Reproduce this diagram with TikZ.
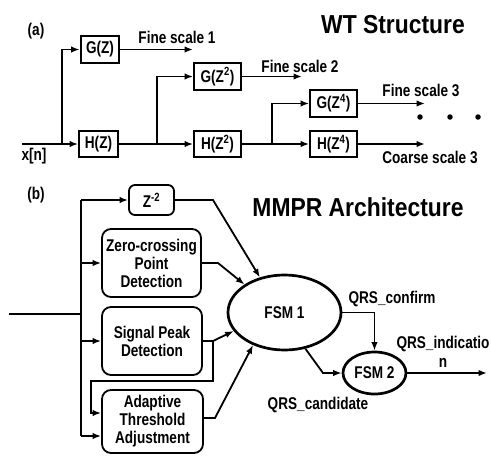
\documentclass[tikz,border=0pt]{standalone}
\usepackage{fontspec}
\setmainfont{Liberation Sans}[FakeStretch=0.88]
\newfontfamily\narrowfont{Liberation Sans}[FakeStretch=0.80]
\usetikzlibrary{arrows.meta,shapes.geometric}
\begin{document}
\begin{tikzpicture}[x=1pt,y=-1pt,
  every node/.style={font=\narrowfont\fontsize{17}{18}\selectfont\bfseries, inner sep=0pt},
  ln/.style={line width=1.8pt},
  arr/.style={ln,-{Latex[length=8.5pt,width=6.5pt]}},
  box/.style={draw,ln,align=center},
  rbox/.style={box,rounded corners=9pt},
  title/.style={font=\fontsize{26}{30}\selectfont\bfseries},
  fsm/.style={draw,ellipse,line width=2.7pt},
  dot/.style={circle,fill,minimum size=5.5pt}]
\useasboundingbox (0,0) rectangle (491,456);

% ---------------- (a) WT structure ----------------
\node (la) at (36,31) {(a)};
\node[title] (tw) at (393,25) {WT Structure};

\node[box,line width=2.7pt,minimum width=38,minimum height=27] (g1) at (100,49.5) {G(Z)};
\node[box,minimum width=39,minimum height=26] (h1) at (98.5,144) {H(Z)};
\node[box,minimum width=47,minimum height=27] (g2) at (217.5,76.5) {G(Z\textsuperscript{2})};
\node[box,minimum width=47,minimum height=26] (h2) at (217.5,144) {H(Z\textsuperscript{2})};
\node[box,minimum width=47,minimum height=27] (g3) at (333.5,103.5) {G(Z\textsuperscript{4})};
\node[box,minimum width=47,minimum height=26] (h3) at (333.5,144) {H(Z\textsuperscript{4})};

\coordinate (xin) at (22,144);
\coordinate (b1) at (62,144);
\coordinate (b2) at (157,144);
\coordinate (b3) at (272,144);
\coordinate (f1) at (193,49.5);
\coordinate (f2) at (302,76.5);
\coordinate (f3) at (425,103.5);
\coordinate (c3) at (425,144);

\draw[arr] (xin) -- (h1);
\draw[arr] (b1) |- (g1);
\draw[arr] (h1) -- (h2);
\draw[arr] (b2) |- (g2);
\draw[arr] (h2) -- (h3);
\draw[arr] (b3) |- (g3);
\draw[arr] (g1) -- (f1);
\draw[arr] (g2) -- (f2);
\draw[arr] (g3) -- (f3);
\draw[arr] (h3) -- (c3);

\node (lx) at (34,156) {x[n]};
\node (lf1) at (177,37) {Fine scale 1};
\node (lf2) at (300,66) {Fine scale 2};
\node (lf3) at (421,90) {Fine scale 3};
\node (lc3) at (430,157) {Coarse scale 3};
\node[dot] (d1) at (420,117) {};
\node[dot] (d2) at (450,117) {};
\node[dot] (d3) at (478,117) {};

% ---------------- (b) MMPR architecture ----------------
\node (lb) at (36,195) {(b)};
\node[title] (tm) at (358,207) {MMPR Architecture};

\node[rbox,rounded corners=6pt,minimum width=45,minimum height=30] (zb) at (151.5,200) {Z\textsuperscript{-2}};
\node[rbox,minimum width=99,minimum height=68] (zc) at (151.5,263) {Zero-crossing\\Point\\Detection};
\node[rbox,minimum width=100,minimum height=68] (sp) at (152,341) {Signal Peak\\Detection};
\node[rbox,minimum width=101,minimum height=63] (ad) at (152.5,421.5) {Adaptive\\Threshold\\Adjustment};

\node[fsm,minimum width=113,minimum height=75] (fsm1) at (284.5,312.5) {FSM 1};
\node[fsm,minimum width=63,minimum height=42] (fsm2) at (374.5,373) {FSM 2};

\coordinate (in) at (9,314);
\coordinate (bb) at (81,314);
\coordinate (vt) at (81,200);
\coordinate (vb) at (81,436);
\coordinate (pz) at (81,263);
\coordinate (ps) at (81,341);
\coordinate (pa) at (81,413);

\draw[ln] (in) -- (bb);
\draw[ln] (vt) -- (vb);
\draw[arr] (vt) -- (zb);
\draw[arr] (pz) -- (zc);
\draw[arr] (ps) -- (sp);
\draw[arr] (vb) -- (vb -| ad.west);

\coordinate (k1) at (213,341);
\coordinate (k2) at (213,381);
\coordinate (k3) at (91,381);
\coordinate (k4) at (91,413);
\draw[arr] (sp.east) -- (k1) -- (k2) -- (k3) -- (k4) -- (k4 -| ad.west);

\coordinate (zk) at (213,200);
\coordinate (ck) at (218,263);
\coordinate (ak) at (215,418);
\draw[arr] (zb) -- (zk) -- (fsm1.125);
\draw[arr] (zc) -- (ck) -- (fsm1.145);
\draw[arr] (k1) -- (fsm1.200);
\draw[arr] (ak -| ad.east) -- (ak) -- (fsm1.226);

\coordinate (cd) at (323,373);
\coordinate (out) at (487,373);
\draw[arr] (fsm1.east) -| (fsm2);
\draw[arr] (fsm1.300) -- (cd) -- (fsm2);
\draw[arr] (fsm2) -- (out);

\node (lq1) at (392,299) {QRS\_confirm};
\node (lq2) at (318,405) {QRS\_candidate};
\node[align=center,font=\narrowfont\fontsize{17}{19}\selectfont\bfseries] (lq3) at (443,352) {QRS\_indicatio\\n};
\end{tikzpicture}
\end{document}
